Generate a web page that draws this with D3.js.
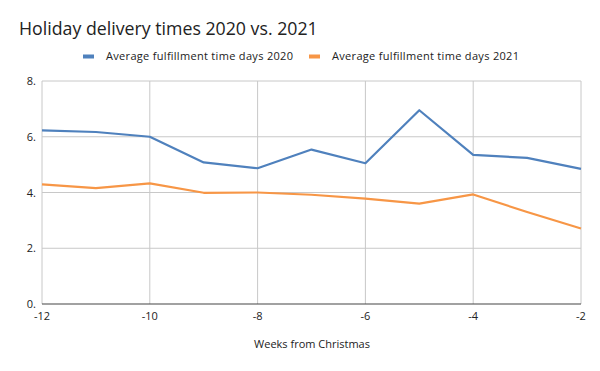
<!DOCTYPE html>
<html><head><meta charset="utf-8">
<script src="https://cdn.jsdelivr.net/npm/d3@7"></script>
<style>body{margin:0;background:#fff}svg{display:block}text{font-family:"Open Sans",Lato,sans-serif;fill:#222}</style>
</head><body><svg id="c" width="600" height="371"></svg>
<script>
const weeks = [-12,-11,-10,-9,-8,-7,-6,-5,-4,-3,-2];
const days2020 = [6.23,6.17,6.0,5.08,4.87,5.54,5.05,6.95,5.35,5.24,4.85];
const days2021 = [4.29,4.16,4.33,3.99,4.0,3.92,3.78,3.60,3.93,3.30,2.71];
const xTicks = [-12,-10,-8,-6,-4,-2];
const yTicks = [0,2,4,6,8];
const yTickLabels = ["0.","2.","4.","6.","8."];
const seriesNames = ["Average fulfillment time days 2020","Average fulfillment time days 2021"];
const colors = ["#4f81bd","#f79646"];

const svg = d3.select("#c");
const m = {l:42, r:19, t:81, b:67};
const W = 600, H = 371;
const x = d3.scaleLinear().domain([-12,-2]).range([m.l, W-m.r]);
const y = d3.scaleLinear().domain([0,8]).range([H-m.b, m.t]);

const title = svg.append("text").attr("x",19).attr("y",35).attr("font-size",20).text("Holiday delivery times 2020 vs. 2021");
const tw = title.node().getComputedTextLength();
title.attr("font-size", 20 * 299 / tw);

// gridlines
svg.append("g").selectAll("line").data(yTicks.filter(d=>d>0)).join("line")
  .attr("x1",m.l).attr("x2",W-m.r).attr("y1",d=>y(d)).attr("y2",d=>y(d))
  .attr("stroke","#c8c8c8").attr("stroke-width",1);
svg.append("g").selectAll("line").data(xTicks).join("line")
  .attr("x1",d=>x(d)).attr("x2",d=>x(d)).attr("y1",y(8)).attr("y2",y(0))
  .attr("stroke","#c8c8c8").attr("stroke-width",1);

// axis line
svg.append("line").attr("x1",m.l).attr("x2",W-m.r).attr("y1",y(0)).attr("y2",y(0))
  .attr("stroke","#444").attr("stroke-width",1.2);

// tick labels
svg.append("g").selectAll("text").data(yTicks).join("text")
  .attr("x",m.l-6).attr("y",d=>y(d)+4).attr("text-anchor","end").attr("font-size",11)
  .text((d,i)=>yTickLabels[i]);
svg.append("g").selectAll("text").data(xTicks).join("text")
  .attr("x",d=>x(d)).attr("y",y(0)+16).attr("text-anchor","middle").attr("font-size",11)
  .text(d=>d);

svg.append("text").attr("x",312).attr("y",348).attr("text-anchor","middle").attr("font-size",11)
  .text("Weeks from Christmas");

const line = d3.line().x((d,i)=>x(weeks[i])).y(d=>y(d));
[days2020, days2021].forEach((s,i)=>{
  svg.append("path").datum(s).attr("d",line).attr("fill","none")
    .attr("stroke",colors[i]).attr("stroke-width",2.2).attr("stroke-linejoin","round");
});

// legend
const lx = [83, 309];
seriesNames.forEach((n,i)=>{
  svg.append("rect").attr("x",lx[i]).attr("y",54.5).attr("width",11).attr("height",4).attr("fill",colors[i]);
  svg.append("text").attr("x",lx[i]+23).attr("y",60).attr("font-size",11).attr("textLength",187).text(n);
});
</script></body></html>
